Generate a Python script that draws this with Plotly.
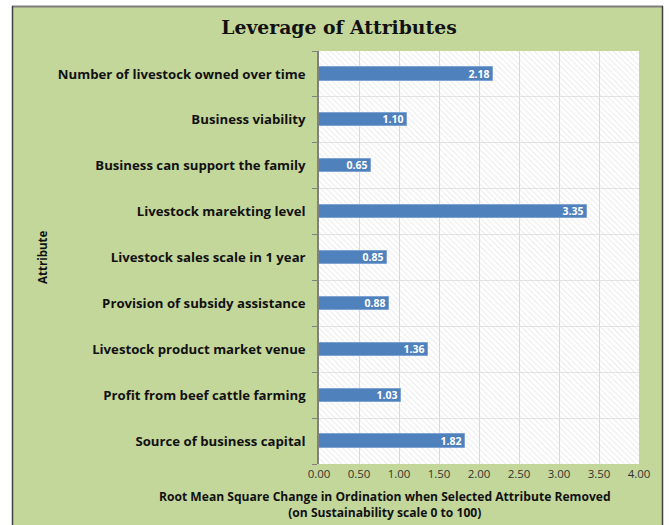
import plotly.graph_objects as go

# Attributes (top to bottom as displayed) and their leverage values
attributes = [
    "Number of livestock owned over time",
    "Business viability",
    "Business can support the family",
    "Livestock marekting level",
    "Livestock sales scale in 1 year",
    "Provision of subsidy assistance",
    "Livestock product market venue",
    "Profit from beef cattle farming",
    "Source of business capital",
]
rms_change = [2.18, 1.10, 0.65, 3.35, 0.85, 0.88, 1.36, 1.03, 1.82]
x_ticks = [0.0, 0.5, 1.0, 1.5, 2.0, 2.5, 3.0, 3.5, 4.0]
x_max = 4.0

# plotly draws categorical y from bottom up, so reverse order
cats = attributes[::-1]
vals = rms_change[::-1]

W, H = 669, 525
L, R, T, B = 319, 30, 51, 61
GREEN = "#C4D79B"
FONT = "Open Sans"

fig = go.Figure()

# hatched plot-area background
fig.add_trace(go.Bar(
    x=[x_max] * len(cats), y=cats, orientation="h", width=1.0,
    marker=dict(color="rgba(0,0,0,0)", line=dict(width=0),
                pattern=dict(shape="\\", fgcolor="#D6D6D6", bgcolor="rgba(0,0,0,0)",
                             size=4, solidity=0.25)),
    hoverinfo="skip", showlegend=False,
))

fig.add_trace(go.Bar(
    x=vals, y=cats, orientation="h", width=0.29,
    marker=dict(color="#4F81BD", line=dict(color="#7FA3D3", width=1)),
    text=[f"{v:.2f}" for v in vals], textposition="inside",
    insidetextanchor="end", textangle=0,
    textfont=dict(family=FONT, size=10.5, color="white", weight="bold"),
    showlegend=False,
))

fig.update_layout(
    width=W, height=H,
    margin=dict(l=L, r=R, t=T, b=B),
    paper_bgcolor=GREEN, plot_bgcolor="white",
    barmode="overlay", bargap=0,
    title=dict(text="<b>Leverage of Attributes</b>", xref="container", x=339 / W,
               xanchor="center", y=1 - 27 / H, yanchor="middle",
               font=dict(family="DejaVu Serif", size=18.8, color="#111111")),
    font=dict(family=FONT, color="#222222"),
    uniformtext=dict(minsize=10.5, mode="show"),
)

fig.update_xaxes(
    range=[0, x_max], tickvals=x_ticks, ticktext=[f"{t:.2f}" for t in x_ticks],
    showgrid=True, gridcolor="#D9D9D9", gridwidth=1,
    zeroline=False, showline=False, ticks="", ticklabelstandoff=1,
    tickfont=dict(family=FONT, size=11.5, color="#333333"),
)
fig.update_yaxes(
    categoryorder="array", categoryarray=cats,
    tickson="boundaries", ticks="outside", ticklen=5, tickcolor="#808080",
    showline=True, linecolor="#808080", linewidth=1.5,
    showgrid=True, gridcolor="#E4E4E4", gridwidth=1,
    ticklabelstandoff=9,
    tickfont=dict(family=FONT, size=13.2, color="#111111", weight="bold"),
)

pw, ph = W - L - R, H - T - B
def px_x(p):
    return (p - L) / pw
def px_y(p):
    return (H - B - p) / ph

# axis titles placed at fixed pixel positions
fig.add_annotation(
    text="<b>Attribute</b>", xref="paper", yref="paper",
    x=px_x(42), y=px_y(258),
    showarrow=False, textangle=-90, xanchor="center", yanchor="middle",
    font=dict(family=FONT, size=11.5, color="#111111"),
)
fig.add_annotation(
    text="<b>Root Mean Square Change in Ordination when Selected Attribute Removed<br>(on Sustainability scale 0 to 100)</b>",
    xref="paper", yref="paper", x=px_x(385), y=px_y(505),
    showarrow=False, xanchor="center", yanchor="middle",
    font=dict(family=FONT, size=12.1, color="#111111"),
)

# outer chart frame: white margins around the green chart area, plus border lines
for x0, x1, y0, y1 in [(0, W, 0, 6), (0, 12, 0, H), (663, W, 0, H)]:
    fig.add_shape(type="rect", xref="paper", yref="paper",
                  x0=px_x(x0), x1=px_x(x1), y0=px_y(y1), y1=px_y(y0),
                  fillcolor="white", line=dict(width=0), layer="above")
fig.add_shape(type="line", xref="paper", yref="paper",
              x0=px_x(12), x1=px_x(663), y0=px_y(6.5), y1=px_y(6.5),
              line=dict(color="#7F7F7F", width=2))
fig.add_shape(type="line", xref="paper", yref="paper",
              x0=px_x(12.5), x1=px_x(12.5), y0=px_y(6), y1=px_y(H + 2),
              line=dict(color="#404040", width=1.5))
fig.add_shape(type="line", xref="paper", yref="paper",
              x0=px_x(662.5), x1=px_x(662.5), y0=px_y(6), y1=px_y(H + 2),
              line=dict(color="#404040", width=1.5))

fig.write_html("out.html")
